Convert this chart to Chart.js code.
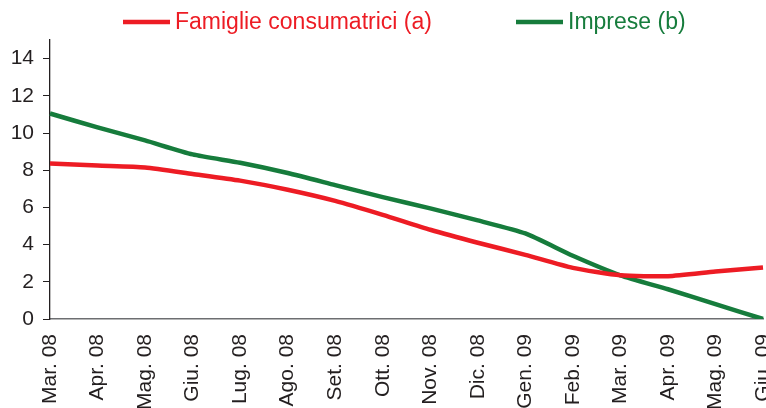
<!DOCTYPE html>
<html lang="it">
<head>
<meta charset="utf-8">
<title>Famiglie e imprese</title>
<script src="https://cdn.jsdelivr.net/npm/chart.js@4.4.1/dist/chart.umd.min.js"></script>
<style>
  html, body { margin: 0; padding: 0; background: #fff; overflow: hidden; }
  #wrap { width: 766px; height: 408px; position: relative; }
</style>
</head>
<body>
<div id="wrap"><canvas id="chart" width="766" height="408"></canvas></div>
<script>
const months = ['Mar. 08', 'Apr. 08', 'Mag. 08', 'Giu. 08', 'Lug. 08', 'Ago. 08', 'Set. 08', 'Ott. 08',
  'Nov. 08', 'Dic. 08', 'Gen. 09', 'Feb. 09', 'Mar. 09', 'Apr. 09', 'Mag. 09', 'Giu. 09'];
const famiglie = [8.36, 8.25, 8.15, 7.8, 7.44, 6.95, 6.35, 5.6, 4.8, 4.1, 3.45, 2.75, 2.35, 2.3, 2.55, 2.77];
const imprese = [11.05, 10.3, 9.6, 8.85, 8.4, 7.85, 7.2, 6.55, 5.95, 5.3, 4.6, 3.4, 2.35, 1.6, 0.8, 0.0];
const yTicks = [0, 2, 4, 6, 8, 10, 12, 14];

const RED = '#ed1c24';
const GREEN = '#167c3c';
const INK = '#231f20';
const FONT = '"Liberation Sans", Arial, Helvetica, sans-serif';

// legend drawn by hand: short line + label in the series colour
const lineLegend = {
  id: 'lineLegend',
  afterDraw(chart, args, opts) {
    const { ctx } = chart;
    ctx.save();
    ctx.font = `${opts.fontSize}px ${FONT}`;
    ctx.textBaseline = 'middle';
    ctx.lineCap = 'butt';
    chart.data.datasets.forEach((ds, i) => {
      const x = opts.starts[i];
      ctx.strokeStyle = ds.borderColor;
      ctx.lineWidth = 4.5;
      ctx.beginPath();
      ctx.moveTo(x, opts.y);
      ctx.lineTo(x + opts.lineLen, opts.y);
      ctx.stroke();
      ctx.fillStyle = ds.borderColor;
      ctx.fillText(ds.label, x + opts.lineLen + 5, opts.y + 1);
    });
    ctx.restore();
  }
};

new Chart(document.getElementById('chart'), {
  type: 'line',
  data: {
    labels: months,
    datasets: [
      { label: 'Famiglie consumatrici (a)', data: famiglie, borderColor: RED, backgroundColor: RED },
      { label: 'Imprese (b)', data: imprese, borderColor: GREEN, backgroundColor: GREEN }
    ].map(d => ({ ...d, borderWidth: 4.5, pointRadius: 0, tension: 0.2, fill: false }))
  },
  options: {
    responsive: false,
    animation: false,
    layout: { padding: { top: 40, right: 3, left: 0, bottom: 0 } },
    plugins: {
      legend: { display: false },
      tooltip: { enabled: false },
      lineLegend: { y: 22, fontSize: 23, lineLen: 47, starts: [123, 516] }
    },
    scales: {
      x: {
        offset: false,
        grid: { display: false },
        border: { display: true, color: '#6d6e71', width: 1.5 },
        ticks: {
          color: INK, font: { family: FONT, size: 21 },
          minRotation: 90, maxRotation: 90, autoSkip: false, padding: 7
        },
        afterFit(s) { s.height = 89; s.paddingLeft = 0; s.paddingRight = 0; }
      },
      y: {
        min: 0, max: 15,
        grid: { drawOnChartArea: false, drawTicks: true, tickLength: 7, color: INK, lineWidth: 1 },
        border: { display: true, color: INK, width: 1.3 },
        ticks: { color: INK, font: { family: FONT, size: 21 }, padding: 9, stepSize: 2 },
        afterBuildTicks(s) { s.ticks = yTicks.map(v => ({ value: v })); },
        afterFit(s) { s.width = 50; s.paddingTop = 0; s.paddingBottom = 0; }
      }
    }
  },
  plugins: [lineLegend]
});
</script>
</body>
</html>
